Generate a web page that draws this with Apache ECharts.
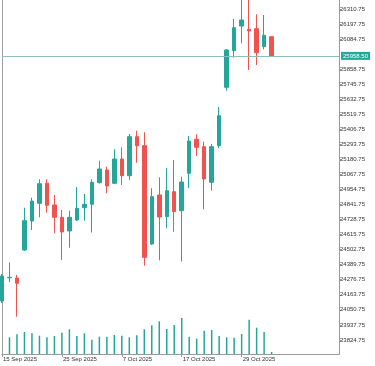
<!DOCTYPE html>
<html>
<head>
<meta charset="utf-8">
<script src="https://cdn.jsdelivr.net/npm/echarts@6/dist/echarts.min.js"></script>
<style>
html,body{margin:0;padding:0;background:#fff;}
#c{width:375px;height:366px;}
</style>
</head>
<body>
<div id="c"></div>
<script>
// Trading dates (last nine are empty future slots)
const dates = ['15 Sep 2025','16 Sep 2025','17 Sep 2025','18 Sep 2025','19 Sep 2025','22 Sep 2025','23 Sep 2025','24 Sep 2025','25 Sep 2025','26 Sep 2025','29 Sep 2025','30 Sep 2025','1 Oct 2025','2 Oct 2025','3 Oct 2025','6 Oct 2025','7 Oct 2025','8 Oct 2025','9 Oct 2025','10 Oct 2025','13 Oct 2025','14 Oct 2025','15 Oct 2025','16 Oct 2025','17 Oct 2025','20 Oct 2025','21 Oct 2025','22 Oct 2025','23 Oct 2025','24 Oct 2025','27 Oct 2025','28 Oct 2025','29 Oct 2025','30 Oct 2025','31 Oct 2025','3 Nov 2025','4 Nov 2025','5 Nov 2025','6 Nov 2025','7 Nov 2025','10 Nov 2025','11 Nov 2025','12 Nov 2025','13 Nov 2025','14 Nov 2025','17 Nov 2025'];
const shownDates = ['15 Sep 2025','25 Sep 2025','7 Oct 2025','17 Oct 2025','29 Oct 2025'];

const open  = [24117.0,24291.25,24289.75,24500.0,24718.0,24851.0,25001.25,24838.25,24745.75,24643.0,24725.5,24818.0,24843.5,25005.75,25101.25,25001.25,25183.75,25058.5,25351.5,25283.75,24545.25,24913.5,24750.25,24938.25,24795.5,25076.5,25331.75,25276.25,25008.75,25283.75,25722.5,25997.5,26183.0,26158.25,26162.75,26027.5,26102.75];
const close = [24304.75,24295.0,24250.0,24720.25,24868.25,24998.25,24836.0,24745.75,24635.5,24745.75,24813.5,24843.5,25008.75,25108.75,24981.0,25183.75,25058.5,25351.5,25283.75,24445.25,24900.5,24748.0,24945.75,24788.0,25011.0,25319.0,25271.75,25033.5,25276.25,25509.0,26002.75,26170.25,26228.0,26145.5,25982.5,26113.25,25958.5];
const low   = [24102.0,24259.75,23999.0,24492.5,24650.5,24745.75,24780.5,24625.5,24425.0,24517.5,24718.0,24720.25,24631.5,24999.75,24926.0,24996.0,24988.5,25026.0,25156.0,24382.25,24537.75,24422.75,24663.25,24637.75,24412.25,24963.75,25206.5,24806.0,24945.75,25264.25,25697.0,25945.0,26053.0,25852.5,25890.0,26008.0,25955.0];
const high  = [24319.75,24406.25,24312.25,24818.0,24893.0,25031.25,25031.25,24913.5,24800.75,24795.5,24973.5,24921.0,25031.25,25171.0,25126.0,25256.75,25271.75,25371.75,25396.5,25384.5,24963.75,25046.25,25114.0,25176.25,25051.0,25356.5,25369.5,25313.75,25296.5,25574.5,26010.25,26235.75,26423.5,26438.0,26271.0,26265.75,26108.0];
const volume = ['-',16700,19700,22000,20700,18300,16700,18000,21300,24700,18000,20700,14300,17300,17300,19000,18300,16700,18700,24700,28700,32700,25000,29000,36000,17300,15300,23300,24000,18000,16700,16300,20000,34300,26300,22000,2000];

const priceTicks = [23824.75,23937.75,24050.75,24163.75,24276.75,24389.75,24502.75,24615.75,24728.75,24841.75,24954.75,25067.75,25180.75,25293.75,25406.75,25519.75,25632.75,25745.75,25858.75,26084.75,26197.75,26310.75];
const priceMin = 23718.77, priceMax = 26378.37;
const volMax = 354000;

const lastPrice = close[close.length - 1];
const UP = '#26a69a', DOWN = '#ef5350';

const candleData = open.map((o, i) => [o, close[i], low[i], high[i]]);
const FONT = '"Liberation Sans", Arial, sans-serif';

const chart = echarts.init(document.getElementById('c'), null, {renderer: 'canvas'});
chart.setOption({
  animation: false,
  backgroundColor: '#fff',
  grid: {left: 1, right: 36, top: 0, bottom: 12},
  xAxis: {
    type: 'category',
    data: dates,
    boundaryGap: false,
    axisLine: {show: true, lineStyle: {color: '#9a9a9a', width: 1}},
    axisTick: {show: true, length: 3, lineStyle: {color: '#9a9a9a'},
      interval: (i, v) => shownDates.indexOf(v) >= 0},
    axisLabel: {
      interval: (i, v) => shownDates.indexOf(v) >= 0,
      align: 'left', margin: 2, padding: [0, 0, 0, 1],
      fontSize: 6, color: '#333', fontFamily: FONT
    },
    splitLine: {show: false}
  },
  yAxis: [{
    type: 'value',
    position: 'right',
    min: priceMin, max: priceMax,
    scale: true,
    axisLine: {show: true, lineStyle: {color: '#9a9a9a', width: 1}},
    axisTick: {show: true, length: 2, inside: false, customValues: priceTicks, lineStyle: {color: '#9a9a9a'}},
    axisLabel: {
      customValues: priceTicks,
      formatter: v => v.toFixed(2),
      margin: 1, fontSize: 6, color: '#333', fontFamily: FONT,
      showMinLabel: true, showMaxLabel: true
    },
    splitLine: {show: false}
  }, {
    type: 'value',
    position: 'left',
    min: 0, max: volMax,
    axisLine: {show: true, lineStyle: {color: '#a0a0a0', width: 1}},
    axisTick: {show: false},
    axisLabel: {show: false},
    splitLine: {show: false}
  }],
  series: [{
    type: 'bar',
    name: 'Volume',
    yAxisIndex: 1,
    data: volume,
    barWidth: 1.5,
    itemStyle: {color: UP},
    silent: true,
    z: 1
  }, {
    type: 'candlestick',
    name: 'Price',
    yAxisIndex: 0,
    data: candleData,
    barWidth: 4,
    clip: true,
    itemStyle: {color: UP, color0: DOWN, borderColor: UP, borderColor0: DOWN, borderWidth: 1},
    markLine: {
      silent: true,
      symbol: ['none', 'none'],
      lineStyle: {color: '#8fbfba', width: 1, type: 'solid'},
      label: {
        position: 'end', distance: 2,
        formatter: () => lastPrice.toFixed(2),
        backgroundColor: UP, color: '#fff', fontSize: 6, fontFamily: FONT,
        padding: [1, 2, 1, 2]
      },
      data: [{yAxis: lastPrice}]
    },
    z: 3
  }]
});
</script>
</body>
</html>
